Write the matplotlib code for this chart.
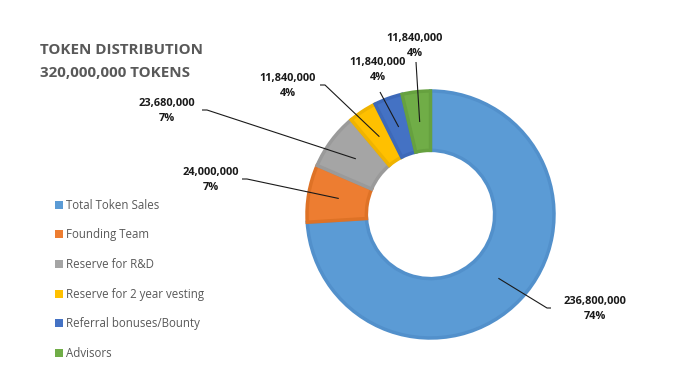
import matplotlib
matplotlib.use("Agg")
import matplotlib.pyplot as plt
import numpy as np
from matplotlib.patches import Patch

categories = ["Total Token Sales", "Founding Team", "Reserve for R&D",
              "Reserve for 2 year vesting", "Referral bonuses/Bounty", "Advisors"]
values = [236800000, 24000000, 23680000, 11840000, 11840000, 11840000]
pct_labels = ["74%", "7%", "7%", "4%", "4%", "4%"]
colors = ["#5B9BD5", "#ED7D31", "#A5A5A5", "#FFC000", "#4472C4", "#70AD47"]
edge_colors = ["#5290CB", "#DE7226", "#9A9A9A", "#EFB300", "#3D69B9", "#66A13F"]
title_lines = ["TOKEN DISTRIBUTION", "320,000,000 TOKENS"]

W, H = 700, 384
fig = plt.figure(figsize=(7, 3.84), dpi=100)
fig.patch.set_facecolor("white")

cx, cy, R = 430.5, 214.5, 125.0
ax = fig.add_axes([(cx - R) / W, (H - cy - R) / H, 2 * R / W, 2 * R / H])
ax.axis("off")

wedges, _ = ax.pie(values, colors=colors, startangle=90, counterclock=False,
                   radius=0.988, wedgeprops=dict(width=0.475, linewidth=2.5))
for w, ec in zip(wedges, edge_colors):
    w.set_edgecolor(ec)
ax.set_xlim(-1, 1)
ax.set_ylim(-1, 1)
ax.set_aspect("equal")

def px(x, y):
    return (x - cx) / R, (cy - y) / R

# label positions (pixels) and leader start points (pixels)
label_pos = [(595, 309), (211, 180), (167, 111), (288, 86), (378, 70), (415, 46)]
line_start = [[(551, 308), (547, 308)], [(242, 179), (247, 179)], [(202, 110), (207, 110)],
              [(320, 85), (325, 85)], [(380, 92), (380, 92)], [(416, 62), (416, 62)]]

for i, w in enumerate(wedges):
    ang = np.deg2rad((w.theta1 + w.theta2) / 2)
    ax_x, ax_y = 0.745 * np.cos(ang), 0.745 * np.sin(ang)
    pts = [px(*p) for p in line_start[i]] + [(ax_x, ax_y)]
    ax.plot([p[0] for p in pts], [p[1] for p in pts], color="#1a1a1a", lw=0.8,
            clip_on=False, solid_capstyle="butt")
    tx, ty = px(*label_pos[i])
    ax.text(tx, ty, f"{values[i]:,}\n{pct_labels[i]}", ha="center", va="center",
            fontsize=7.9, fontweight="bold", family="Open Sans", color="#1a1a1a",
            linespacing=1.38, clip_on=False)

# title
for k, t in enumerate(title_lines):
    fig.text(40 / W, 1 - (50 + 23 * k) / H, t, ha="left", va="center",
             fontsize=10.9, fontweight="bold", family="Open Sans", color="#595959")

# legend
handles = [Patch(facecolor=c, edgecolor="none") for c in colors]
leg = fig.legend(handles, categories, loc="upper left",
                 bbox_to_anchor=(50 / W, 1 - 194 / H), frameon=False,
                 prop=dict(family="Open Sans", size=8.3), labelcolor="#595959",
                 handlelength=0.7, handleheight=0.7, handletextpad=0.3,
                 labelspacing=1.45, borderaxespad=0)

fig.savefig("out.png", dpi=100, facecolor="white")
